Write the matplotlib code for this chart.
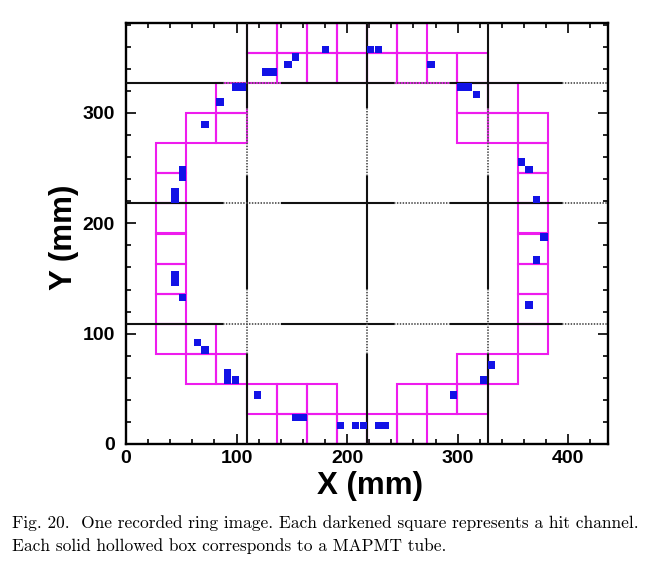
"""One recorded RICH ring image: MAPMT tubes (boxes) and hit channels (squares)."""
import matplotlib

matplotlib.use("Agg")
import matplotlib.pyplot as plt  # noqa: E402
from matplotlib.patches import Rectangle  # noqa: E402
from matplotlib.ticker import MultipleLocator  # noqa: E402

TUBE_COLOR = "#EE1CEE"
HIT_COLOR = "#1212E6"

TUBE = 27.25          # MAPMT tube pitch (mm)
BOARD = 4 * TUBE      # 4x4 tubes per board
PIXEL = 6.7           # drawn size of a hit channel (mm)

# tube positions in the detector plane (column, row index of tube)
TUBE_COL = [5, 6, 7, 8, 9,
            4, 5, 6, 9, 10, 11,
            2, 3, 11, 12,
            1, 2, 13,
            1, 13, 1, 13, 1, 13, 1, 13, 1, 13, 1, 13,
            2, 3, 11, 12, 13,
            3, 11, 12,
            4, 5, 6, 7, 8, 9, 10, 11,
            4, 5, 6, 7, 8, 9]
TUBE_ROW = [0, 0, 0, 0, 0,
            1, 1, 1, 1, 1, 1,
            2, 2, 2, 2,
            3, 3, 3,
            4, 4, 5, 5, 6, 6, 7, 7, 8, 8, 9, 9,
            10, 10, 10, 10, 10,
            11, 11, 11,
            12, 12, 12, 12, 12, 12, 12, 12,
            13, 13, 13, 13, 13, 13]

# hit channel centres (mm)
HIT_X = [126.0, 132.8, 146.5, 153.3, 180.5, 221.4, 228.2, 98.8, 105.6, 85.2,
         71.5, 51.1, 51.1, 44.3, 44.3, 275.9, 303.2, 310.0, 316.8, 357.7,
         364.5, 371.3, 44.3, 44.3, 51.1, 64.7, 71.5, 92.0, 92.0, 98.8,
         119.2, 153.3, 160.1, 194.2, 207.8, 214.6, 228.2, 235.0, 296.3, 323.6,
         330.4, 364.5, 371.3, 378.1]
HIT_Y = [337.2, 337.2, 344.0, 350.8, 357.7, 357.7, 357.7, 323.6, 323.6, 310.0,
         289.5, 248.7, 241.8, 221.4, 228.2, 344.0, 323.6, 323.6, 316.8, 255.5,
         248.7, 221.4, 146.5, 153.3, 132.8, 92.0, 85.2, 64.7, 57.9, 57.9,
         44.3, 23.8, 23.8, 17.0, 17.0, 17.0, 17.0, 17.0, 44.3, 57.9,
         71.5, 126.0, 166.9, 187.4]

X_MAX = 4 * BOARD
Y_MAX = 3.5 * BOARD

# board separation lines: (start, end, dotted?) along the line
H_SEGMENTS = [(0, 87.5, False), (87.5, 141.5, True), (141.5, 242.5, False),
              (242.5, 294, True), (294, 394, False), (394, X_MAX, True)]
V_SEGMENTS = [(0, 82, False), (82, 141, True), (141, 243, False),
              (243, 305, True), (305, Y_MAX, False)]

plt.rcParams["font.family"] = ["Liberation Sans", "DejaVu Sans"]

fig = plt.figure(figsize=(6.51, 5.61), dpi=100)
ax = fig.add_axes([126 / 651, 117 / 561, 482 / 651, 421 / 561])

for c, r in zip(TUBE_COL, TUBE_ROW):
    ax.add_patch(Rectangle((c * TUBE, r * TUBE), TUBE, TUBE, fill=False,
                           edgecolor=TUBE_COLOR, linewidth=1.5, zorder=2))

for k in range(1, 4):
    pos = k * BOARD
    for a, b, dotted in H_SEGMENTS:
        if dotted:
            ax.plot([a, b], [pos, pos], color="#555555", lw=1.3,
                    ls=(0, (0.8, 0.8)), zorder=3)
        else:
            ax.plot([a, b], [pos, pos], color="#111111", lw=1.5, zorder=3)
    for a, b, dotted in V_SEGMENTS:
        if dotted:
            ax.plot([pos, pos], [a, b], color="#555555", lw=1.3,
                    ls=(0, (0.8, 0.8)), zorder=3)
        else:
            ax.plot([pos, pos], [a, b], color="#111111", lw=1.5, zorder=3)

for x, y in zip(HIT_X, HIT_Y):
    ax.add_patch(Rectangle((x - PIXEL / 2, y - PIXEL / 2), PIXEL, PIXEL,
                           facecolor=HIT_COLOR, edgecolor="none", zorder=4))

ax.set_xlim(0, X_MAX)
ax.set_ylim(0, Y_MAX)
ax.xaxis.set_major_locator(MultipleLocator(100))
ax.xaxis.set_minor_locator(MultipleLocator(20))
ax.yaxis.set_major_locator(MultipleLocator(100))
ax.yaxis.set_minor_locator(MultipleLocator(20))
ax.tick_params(which="both", direction="in", top=True, right=True,
               width=1.2, labelsize=14)
ax.tick_params(which="major", length=7)
ax.tick_params(which="minor", length=3.5)
ax.tick_params(axis="x", pad=4)
ax.tick_params(axis="y", pad=8)
for lbl in ax.get_xticklabels() + ax.get_yticklabels():
    lbl.set_fontweight("bold")
for sp in ax.spines.values():
    sp.set_linewidth(1.7)

ax.set_xlabel("X (mm)", fontsize=22.5, fontweight="bold")
ax.set_ylabel("Y (mm)", fontsize=22.5, fontweight="bold")
ax.xaxis.set_label_coords(0.506, -0.064)
ax.yaxis.set_label_coords(-0.097, 0.49)

fig.text(12 / 651, 1 - 528 / 561,
         "Fig. 20.  One recorded ring image. Each darkened square represents a hit channel.",
         family="cmr10", fontsize=12.5, va="baseline")
fig.text(12 / 651, 1 - 551 / 561,
         "Each solid hollowed box corresponds to a MAPMT tube.",
         family="cmr10", fontsize=12.5, va="baseline")

fig.savefig("out.png", dpi=100)
